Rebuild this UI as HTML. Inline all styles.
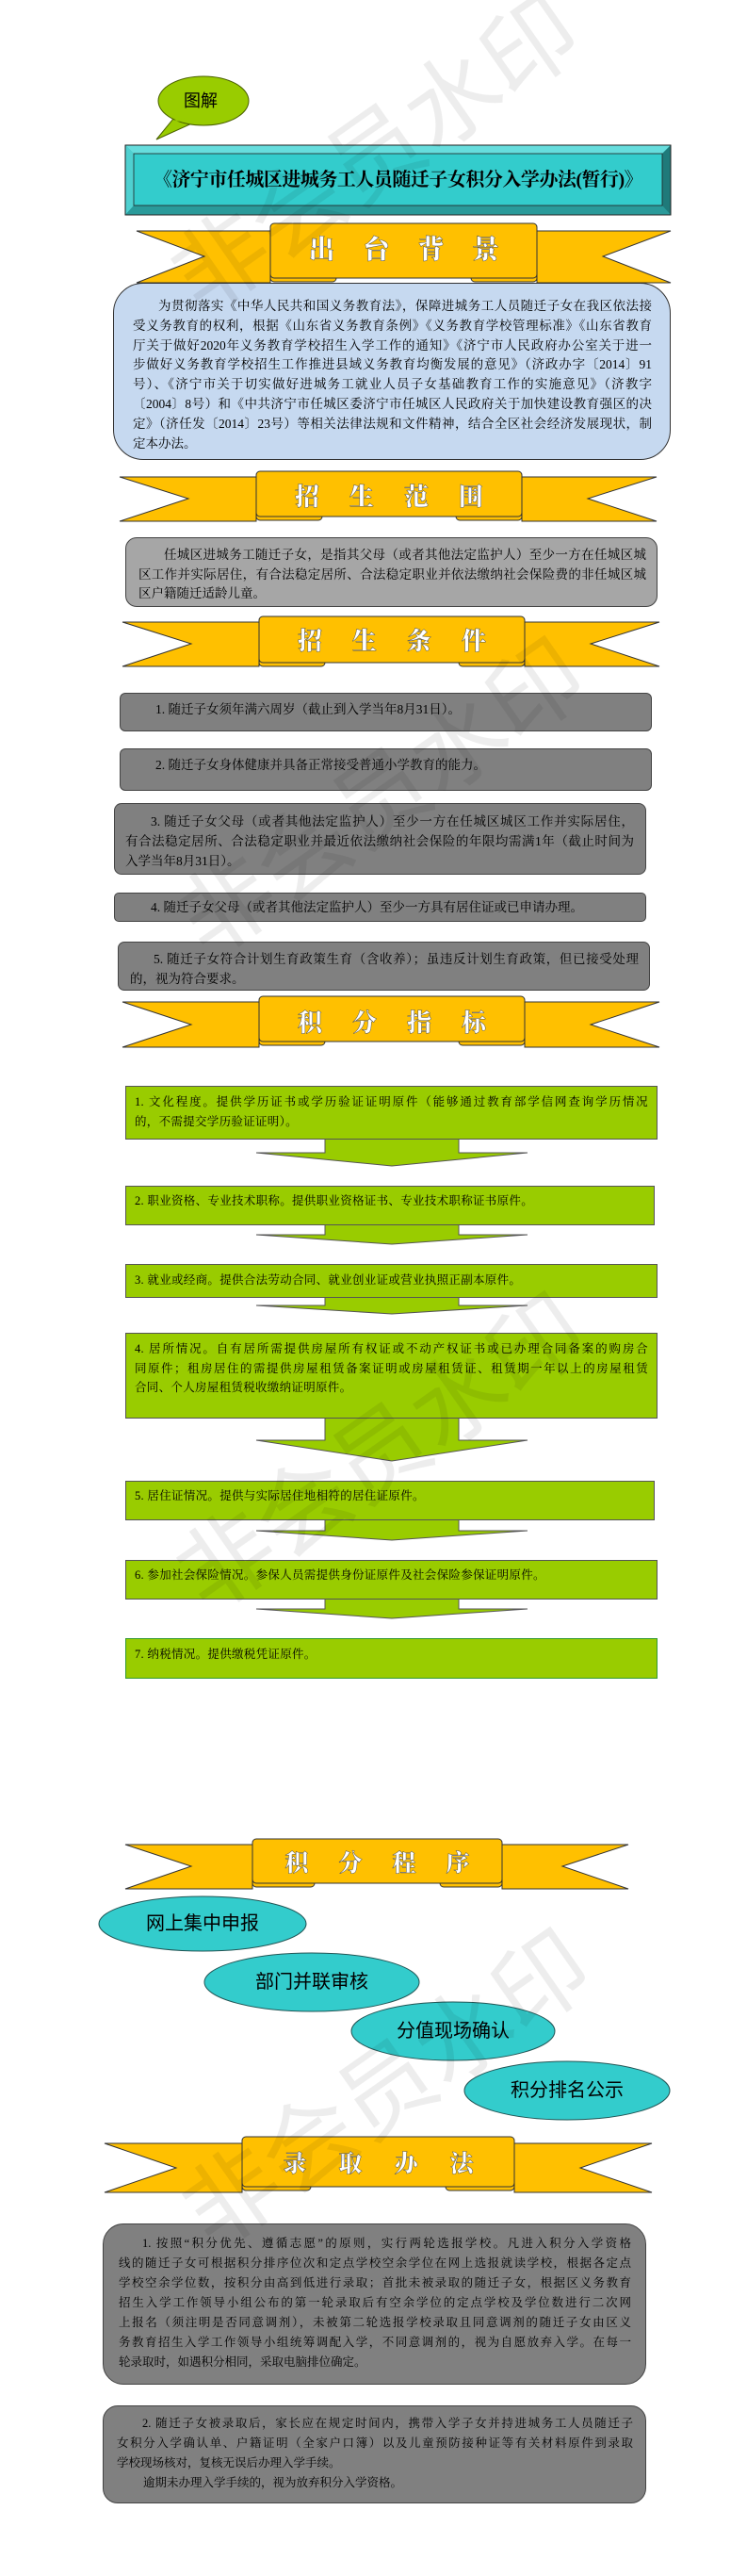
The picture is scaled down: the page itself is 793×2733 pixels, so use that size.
<!DOCTYPE html>
<html><head><meta charset="utf-8">
<style>
*{margin:0;padding:0;box-sizing:border-box}
body{width:793px;height:2733px;position:relative;background:#fff;overflow:hidden;font-family:"Liberation Serif","Noto Serif CJK SC",serif;color:#000}
svg.bg{position:absolute;left:0;top:0}
.box{position:absolute;border:1.5px solid #444}
.t{position:absolute;font-size:13.5px;white-space:nowrap}
.ln{display:block;white-space:nowrap}
.j{text-align:justify;text-align-last:justify}
.rt{position:absolute;color:#fff;font-family:"Noto Serif CJK SC",serif;font-weight:900;text-align:center;white-space:nowrap;-webkit-text-stroke:0.5px #555}
.wm{position:absolute;width:520px;height:120px;line-height:120px;text-align:center;font-family:"Noto Sans CJK SC",sans-serif;font-size:100px;color:rgba(0,0,0,0.07);white-space:nowrap;transform:rotate(-35deg);z-index:5;pointer-events:none}
.g{font-size:12.5px;line-height:20.5px;letter-spacing:0.3px}
.ell{position:absolute;font-family:"Liberation Sans","Noto Sans CJK SC",sans-serif;font-size:20px;line-height:28px;text-align:center}
</style></head><body>
<svg class="bg" width="793" height="2733" viewBox="0 0 793 2733">
<polygon points="184,126 166,148 206,130" fill="#99cc00" stroke="#4a6000" stroke-width="1"/>
<ellipse cx="216" cy="107" rx="48" ry="26" fill="#99cc00" stroke="#4a6000" stroke-width="1"/>
<polygon points="182,128 206,130 200,125" fill="#99cc00"/>

<rect x="133" y="154" width="579" height="74" fill="#2aa3a3"/>
<polygon points="133,154 712,154 703,163 142,163" fill="#66dddd"/>
<polygon points="133,154 142,163 142,218 133,228" fill="#4fd0d0"/>
<polygon points="712,154 703,163 703,218 712,228" fill="#1f7a7a"/>
<polygon points="133,228 142,218 703,218 712,228" fill="#2a9a9a"/>
<rect x="142" y="163" width="561" height="55" fill="#33cccc" stroke="#222" stroke-width="0.8"/>
<rect x="133" y="154" width="579" height="74" fill="none" stroke="#222" stroke-width="1"/>

<g fill="#FFC000" stroke="#333" stroke-width="1">
<polygon points="145,245 287,245 287,300 145,300 217,272"/>
<polygon points="712,245 570,245 570,300 712,300 640,272"/>
<rect x="287" y="291" width="70" height="8" rx="4"/>
<rect x="500" y="291" width="70" height="8" rx="4"/>
<rect x="287" y="237" width="283" height="58" rx="4"/>
</g>
<g fill="#FFC000" stroke="#333" stroke-width="1">
<polygon points="127,506 272,506 272,553 127,553 200,529"/>
<polygon points="697,506 554,506 554,553 697,553 624,529"/>
<rect x="272" y="544" width="70" height="8" rx="4"/>
<rect x="484" y="544" width="70" height="8" rx="4"/>
<rect x="272" y="500" width="282" height="48" rx="4"/>
</g>
<g fill="#FFC000" stroke="#333" stroke-width="1">
<polygon points="130,660 275,660 275,707 130,707 203,683"/>
<polygon points="700,660 557,660 557,707 700,707 627,683"/>
<rect x="275" y="699" width="70" height="8" rx="4"/>
<rect x="487" y="699" width="70" height="8" rx="4"/>
<rect x="275" y="654" width="282" height="49" rx="4"/>
</g>
<g fill="#FFC000" stroke="#333" stroke-width="1">
<polygon points="130,1063 275,1063 275,1111 130,1111 203,1087"/>
<polygon points="700,1063 557,1063 557,1111 700,1111 627,1087"/>
<rect x="275" y="1101" width="70" height="8" rx="4"/>
<rect x="487" y="1101" width="70" height="8" rx="4"/>
<rect x="275" y="1057" width="282" height="48" rx="4"/>
</g>
<g fill="#FFC000" stroke="#333" stroke-width="1">
<polygon points="133,1957 268,1957 268,2004 133,2004 203,1980"/>
<polygon points="667,1957 533,1957 533,2004 667,2004 597,1980"/>
<rect x="268" y="1994" width="66" height="8" rx="4"/>
<rect x="467" y="1994" width="66" height="8" rx="4"/>
<rect x="268" y="1951" width="265" height="47" rx="4"/>
</g>
<g fill="#FFC000" stroke="#333" stroke-width="1">
<polygon points="111,2274 257,2274 257,2326 111,2326 187,2300"/>
<polygon points="692,2274 546,2274 546,2326 692,2326 616,2300"/>
<rect x="257" y="2316" width="73" height="8" rx="4"/>
<rect x="473" y="2316" width="73" height="8" rx="4"/>
<rect x="257" y="2267" width="289" height="53" rx="4"/>
</g>

<g fill="#99cc00" stroke="#555" stroke-width="1">
<polygon points="345,1208 345,1223 272,1223 416,1237 560,1223 487,1223 487,1208"/>
<polygon points="345,1299 345,1310 272,1310 416,1320 560,1310 487,1310 487,1299"/>
<polygon points="345,1376 345,1385 272,1385 416,1394 560,1385 487,1385 487,1376"/>
<polygon points="345,1504 345,1528 272,1528 416,1550 560,1528 487,1528 487,1504"/>
<polygon points="345,1612 345,1624 272,1624 416,1634 560,1624 487,1624 487,1612"/>
<polygon points="345,1696 345,1707 272,1707 416,1717 560,1707 487,1707 487,1696"/>
</g>

<g fill="#33cccc" stroke="#225555" stroke-width="1">
<ellipse cx="215" cy="2041" rx="110" ry="29"/>
<ellipse cx="331" cy="2103" rx="114" ry="31"/>
<ellipse cx="481" cy="2155" rx="108" ry="31"/>
<ellipse cx="602" cy="2218" rx="109" ry="31"/>
</g>
</svg>

<div class="t" style="left:195px;top:95px;font-size:18px;line-height:24px;font-family:'Liberation Sans','Noto Sans CJK SC',sans-serif">图解</div>
<div class="t" style="left:142px;top:176px;width:561px;text-align:center;font-size:20px;line-height:30px;font-weight:bold;letter-spacing:-0.5px">《济宁市任城区进城务工人员随迁子女积分入学办法(暂行)》</div>

<div class="rt" style="left:287px;top:245px;width:283px;font-size:28px;line-height:36px;letter-spacing:30px;padding-left:30px">出台背景</div>
<div class="rt" style="left:272px;top:509px;width:282px;font-size:26px;line-height:34px;letter-spacing:32px;padding-left:32px">招生范围</div>
<div class="rt" style="left:275px;top:662px;width:282px;font-size:26px;line-height:34px;letter-spacing:32px;padding-left:32px">招生条件</div>
<div class="rt" style="left:275px;top:1067px;width:282px;font-size:26px;line-height:34px;letter-spacing:32px;padding-left:32px">积分指标</div>
<div class="rt" style="left:268px;top:1959px;width:265px;font-size:25px;line-height:32px;letter-spacing:32px;padding-left:32px">积分程序</div>
<div class="rt" style="left:257px;top:2277px;width:289px;font-size:25px;line-height:34px;letter-spacing:34px;padding-left:34px">录取办法</div>

<div class="box" style="left:120px;top:300px;width:592px;height:188px;border-radius:32px;background:#c6d9f0;border-color:#333"></div>
<div class="t" style="left:141px;top:315px;width:551px;font-size:13.5px;line-height:20.8px">
<span class="ln j" style="padding-left:27px">为贯彻落实《中华人民共和国义务教育法》，保障进城务工人员随迁子女在我区依法接</span>
<span class="ln j">受义务教育的权利，根据《山东省义务教育条例》《义务教育学校管理标准》《山东省教育</span>
<span class="ln j">厅关于做好2020年义务教育学校招生入学工作的通知》《济宁市人民政府办公室关于进一</span>
<span class="ln j">步做好义务教育学校招生工作推进县域义务教育均衡发展的意见》（济政办字〔2014〕91</span>
<span class="ln j">号）、《济宁市关于切实做好进城务工就业人员子女基础教育工作的实施意见》（济教字</span>
<span class="ln j">〔2004〕8号）和《中共济宁市任城区委济宁市任城区人民政府关于加快建设教育强区的决</span>
<span class="ln j">定》（济任发〔2014〕23号）等相关法律法规和文件精神，结合全区社会经济发展现状，制</span>
<span class="ln">定本办法。</span>
</div>

<div class="box" style="left:133px;top:570px;width:565px;height:74px;border-radius:12px;background:#a6a6a6"></div>
<div class="t" style="left:147px;top:579px;width:539px;line-height:20.7px">
<span class="ln j" style="padding-left:27px">任城区进城务工随迁子女，是指其父母（或者其他法定监护人）至少一方在任城区城</span>
<span class="ln j">区工作并实际居住，有合法稳定居所、合法稳定职业并依法缴纳社会保险费的非任城区城</span>
<span class="ln">区户籍随迁适龄儿童。</span>
</div>

<div class="box" style="left:127px;top:735px;width:565px;height:41px;border-radius:6px;background:#808080"></div>
<div class="t" style="left:165px;top:743px;line-height:20px">1. 随迁子女须年满六周岁（截止到入学当年8月31日）。</div>
<div class="box" style="left:127px;top:794px;width:565px;height:45px;border-radius:6px;background:#808080"></div>
<div class="t" style="left:165px;top:802px;line-height:20px">2. 随迁子女身体健康并具备正常接受普通小学教育的能力。</div>
<div class="box" style="left:121px;top:852px;width:565px;height:76px;border-radius:8px;background:#808080"></div>
<div class="t" style="left:133px;top:861px;width:540px;line-height:21px">
<span class="ln j" style="padding-left:27px">3. 随迁子女父母（或者其他法定监护人）至少一方在任城区城区工作并实际居住，</span>
<span class="ln j">有合法稳定居所、合法稳定职业并最近依法缴纳社会保险的年限均需满1年（截止时间为</span>
<span class="ln">入学当年8月31日）。</span>
</div>
<div class="box" style="left:121px;top:947px;width:565px;height:31px;border-radius:5px;background:#808080"></div>
<div class="t" style="left:160px;top:953px;line-height:20px">4. 随迁子女父母（或者其他法定监护人）至少一方具有居住证或已申请办理。</div>
<div class="box" style="left:125px;top:999px;width:565px;height:52px;border-radius:7px;background:#808080"></div>
<div class="t" style="left:138px;top:1007px;width:540px;line-height:21px">
<span class="ln j" style="padding-left:25px">5. 随迁子女符合计划生育政策生育（含收养）；虽违反计划生育政策，但已接受处理</span>
<span class="ln">的，视为符合要求。</span>
</div>

<div class="box" style="left:133px;top:1152px;width:565px;height:57px;background:#99cc00;border-color:#555"></div>
<div class="t g" style="left:143px;top:1159px;width:545px">
<span class="ln j">1. 文化程度。提供学历证书或学历验证证明原件（能够通过教育部学信网查询学历情况</span>
<span class="ln">的，不需提交学历验证证明）。</span></div>
<div class="box" style="left:133px;top:1258px;width:562px;height:42px;background:#99cc00;border-color:#555"></div>
<div class="t g" style="left:143px;top:1264px">2. 职业资格、专业技术职称。提供职业资格证书、专业技术职称证书原件。</div>
<div class="box" style="left:133px;top:1341px;width:565px;height:36px;background:#99cc00;border-color:#555"></div>
<div class="t g" style="left:143px;top:1348px">3. 就业或经商。提供合法劳动合同、就业创业证或营业执照正副本原件。</div>
<div class="box" style="left:133px;top:1414px;width:565px;height:91px;background:#99cc00;border-color:#555"></div>
<div class="t g" style="left:143px;top:1421px;width:545px">
<span class="ln j">4. 居所情况。自有居所需提供房屋所有权证或不动产权证书或已办理合同备案的购房合</span>
<span class="ln j">同原件；租房居住的需提供房屋租赁备案证明或房屋租赁证、租赁期一年以上的房屋租赁</span>
<span class="ln">合同、个人房屋租赁税收缴纳证明原件。</span></div>
<div class="box" style="left:133px;top:1571px;width:562px;height:42px;background:#99cc00;border-color:#555"></div>
<div class="t g" style="left:143px;top:1577px">5. 居住证情况。提供与实际居住地相符的居住证原件。</div>
<div class="box" style="left:133px;top:1655px;width:565px;height:42px;background:#99cc00;border-color:#555"></div>
<div class="t g" style="left:143px;top:1661px">6. 参加社会保险情况。参保人员需提供身份证原件及社会保险参保证明原件。</div>
<div class="box" style="left:133px;top:1738px;width:565px;height:43px;background:#99cc00;border-color:#339933"></div>
<div class="t g" style="left:143px;top:1745px">7. 纳税情况。提供缴税凭证原件。</div>

<div class="ell" style="left:115px;top:2027px;width:200px">网上集中申报</div>
<div class="ell" style="left:231px;top:2089px;width:200px">部门并联审核</div>
<div class="ell" style="left:381px;top:2141px;width:200px">分值现场确认</div>
<div class="ell" style="left:502px;top:2204px;width:200px">积分排名公示</div>

<div class="box" style="left:109px;top:2359px;width:577px;height:171px;border-radius:22px;background:#808080"></div>
<div class="t" style="left:126px;top:2370px;width:544px;font-size:12.5px;line-height:21px">
<span class="ln j" style="padding-left:25px">1. 按照“积分优先、遵循志愿”的原则，实行两轮选报学校。凡进入积分入学资格</span>
<span class="ln j">线的随迁子女可根据积分排序位次和定点学校空余学位在网上选报就读学校，根据各定点</span>
<span class="ln j">学校空余学位数，按积分由高到低进行录取；首批未被录取的随迁子女，根据区义务教育</span>
<span class="ln j">招生入学工作领导小组公布的第一轮录取后有空余学位的定点学校及学位数进行二次网</span>
<span class="ln j">上报名（须注明是否同意调剂），未被第二轮选报学校录取且同意调剂的随迁子女由区义</span>
<span class="ln j">务教育招生入学工作领导小组统筹调配入学，不同意调剂的，视为自愿放弃入学。在每一</span>
<span class="ln">轮录取时，如遇积分相同，采取电脑排位确定。</span>
</div>
<div class="box" style="left:109px;top:2552px;width:577px;height:104px;border-radius:16px;background:#808080"></div>
<div class="t" style="left:124px;top:2561px;width:548px;font-size:12.5px;line-height:21px">
<span class="ln j" style="padding-left:27px">2. 随迁子女被录取后，家长应在规定时间内，携带入学子女并持进城务工人员随迁子</span>
<span class="ln j">女积分入学确认单、户籍证明（全家户口簿）以及儿童预防接种证等有关材料原件到录取</span>
<span class="ln">学校现场核对，复核无误后办理入学手续。</span>
<span class="ln" style="padding-left:28px">逾期未办理入学手续的，视为放弃积分入学资格。</span>
</div>

<div class="wm" style="left:134px;top:97px">非会员水印</div>
<div class="wm" style="left:140px;top:780px">非会员水印</div>
<div class="wm" style="left:140px;top:1475px">非会员水印</div>
<div class="wm" style="left:146px;top:2150px">非会员水印</div>
</body></html>
